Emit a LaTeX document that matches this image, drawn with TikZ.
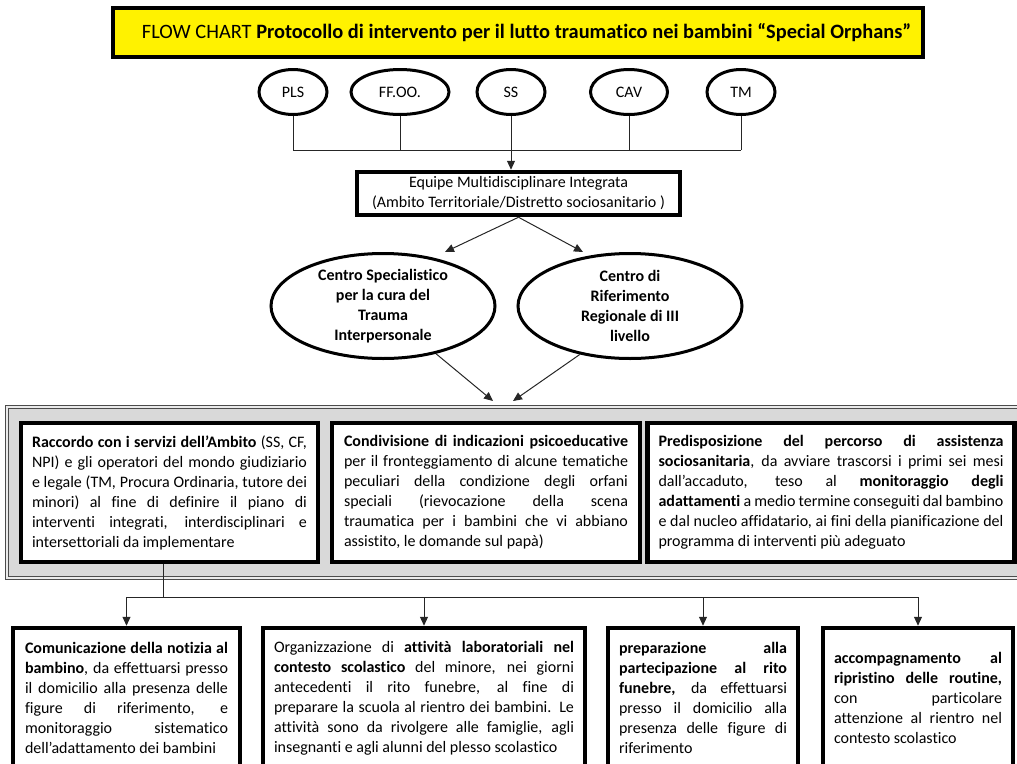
\documentclass[tikz,border=0pt]{standalone}
\usepackage{fontspec}
\setmainfont{Carlito}[Ligatures=NoCommon]
\usetikzlibrary{arrows.meta,shapes.geometric}
\hyphenpenalty=10000
\exhyphenpenalty=10000
\tolerance=10000
\hbadness=10000
\def\testo{\fontsize{16}{20}\selectfont}
\tikzset{
	title/.style={draw, fill=yellow, line width=4pt, minimum width=810pt, minimum height=49pt, inner sep=0pt, font=\fontsize{20.4}{24}\selectfont},
	tag/.style={draw, ellipse, line width=3pt, minimum width=68pt, minimum height=45pt, inner sep=0pt, font=\testo},
	centro/.style={draw, ellipse, line width=3pt, minimum width=224pt, minimum height=105pt, inner sep=0pt, align=center, font=\testo\bfseries},
	equipe/.style={draw, line width=4.5pt, minimum width=323pt, minimum height=43pt, inner sep=0pt, align=center, font=\testo},
	panel/.style={draw=black!70, double=black!8, double distance=1.5pt, line width=1pt, fill=black!15, minimum width=1018pt, minimum height=171pt},
	box/.style={draw, line width=4.5pt, fill=white, inner xsep=11pt, inner ysep=0pt, align=justify, font=\testo},
	link/.style={draw=black!85, line width=1pt},
	arrow/.style={link, -{Triangle[length=9pt,width=8pt]}},
}

\begin{document}
\begin{tikzpicture}[x=1pt,y=-1pt]
	\useasboundingbox (0,0) rectangle (1017,763);
	\clip (0,0) rectangle (1017,763);
	%%%%% TITOLO %%%%%
	\node[title] (title) at (518,32.5) {\hspace*{17pt}FLOW CHART \textbf{Protocollo di intervento per il lutto traumatico nei bambini “Special Orphans”}};
	
	%%%%% SERVIZI %%%%%
	\node[tag] (pls) at (293,92) {PLS};
	\node[tag, minimum width=98pt] (ffoo) at (400,92) {FF.OO.};
	\node[tag] (ss) at (511,92) {SS};
	\node[tag, minimum width=77pt] (cav) at (629,92) {CAV};
	\node[tag] (tm) at (741,92) {TM};
	\coordinate (bus) at (0,150);
	\foreach \t in {pls,ffoo,cav,tm}
		\draw[link] (\t.south) -- (\t.south |- bus);
	\draw[link] (pls.south |- bus) -- (tm.south |- bus);
	
	\node[equipe] (equipe) at (518.5,193.5) {Equipe Multidisciplinare Integrata\\(Ambito Territoriale/Distretto sociosanitario )};
	\draw[arrow] (ss.south) -- (ss.south |- equipe.north);
	
	%%%%% CENTRI %%%%%
	\node[centro] (cura) at (383,306) {Centro Specialistico\\per la cura del\\Trauma\\Interpersonale};
	\node[centro] (rif) at (630,306) {Centro di\\Riferimento\\Regionale di III\\livello};
	\coordinate (curain) at (445,252);
	\coordinate (rifin) at (583,252);
	\draw[arrow] (equipe.south) -- (curain);
	\draw[arrow] (equipe.south) -- (rifin);
	\coordinate (panin1) at (493,401);
	\coordinate (panin2) at (513,401);
	\draw[arrow] (cura.-42) -- (panin1);
	\draw[arrow] (rif.-136) -- (panin2);
	
	%%%%% AZIONI %%%%%
	\node[panel] (panel) at (516,492.5) {};
	\node[box, text width=275pt, minimum height=139pt] (r1) at (169.5,492.5) {\textbf{Raccordo con i servizi dell’Ambito} (SS, CF,\linebreak
		NPI) e gli operatori del mondo giudiziario\linebreak
		e legale (TM, Procura Ordinaria, tutore dei\linebreak
		minori) al fine di definire il piano di\linebreak
		interventi integrati, interdisciplinari e\linebreak
		intersettoriali da implementare};
	\node[box, text width=284pt, inner xsep=12pt, minimum height=139pt] (r2) at (486,492.5) {\textbf{Condivisione di indicazioni psicoeducative}\linebreak
		per il fronteggiamento di alcune tematiche\linebreak
		peculiari della condizione degli orfani\linebreak
		speciali (rievocazione della scena\linebreak
		traumatica per i bambini che vi abbiano\linebreak
		assistito, le domande sul papà)};
	\node[box, text width=345pt, minimum height=139pt] (r3) at (831,492.5) {\textbf{Predisposizione del percorso di assistenza}\linebreak
		\textbf{sociosanitaria}, da avviare trascorsi i primi sei mesi\linebreak
		dall’accaduto, teso al \textbf{monitoraggio degli}\linebreak
		\textbf{adattamenti} a medio termine conseguiti dal bambino\linebreak
		e dal nucleo affidatario, ai fini della pianificazione del\linebreak
		programma di interventi più adeguato};
	
	%%%%% INTERVENTI %%%%%
	\node[box, text width=203pt, inner xsep=12pt, minimum height=140pt] (b1) at (126.5,698) {\textbf{Comunicazione della notizia al}\linebreak
		\textbf{bambino}, da effettuarsi presso\linebreak
		il domicilio alla presenza delle\linebreak
		figure di riferimento, e\linebreak
		monitoraggio sistematico\linebreak
		dell’adattamento dei bambini};
	\node[box, text width=300pt, minimum height=140pt] (b2) at (424,698) {Organizzazione di \textbf{attività laboratoriali nel}\linebreak
		\textbf{contesto scolastico} del minore, nei giorni\linebreak
		antecedenti il rito funebre, al fine di\linebreak
		preparare la scuola al rientro dei bambini. Le\linebreak
		attività sono da rivolgere alle famiglie, agli\linebreak
		insegnanti e agli alunni del plesso scolastico};
	\node[box, text width=168pt, minimum height=140pt] (b3) at (703,698) {\textbf{preparazione alla}\linebreak
		\textbf{partecipazione al rito}\linebreak
		\textbf{funebre,} da effettuarsi\linebreak
		presso il domicilio alla\linebreak
		presenza delle figure di\linebreak
		riferimento};
	\node[box, text width=168pt, minimum height=140pt] (b4) at (918,698) {\textbf{accompagnamento al}\linebreak
		\textbf{ripristino delle routine,}\linebreak
		con particolare\linebreak
		attenzione al rientro nel\linebreak
		contesto scolastico};
	
	\coordinate (hub) at (0,597);
	\draw[link] ([xshift=-6pt]r1.south) -- ([xshift=-6pt]r1.south |- hub);
	\draw[link] (b1.north |- hub) -- (b4.north |- hub);
	\foreach \b in {b1,b2,b3,b4}
		\draw[arrow] (\b.north |- hub) -- (\b.north);
\end{tikzpicture}
\end{document}
